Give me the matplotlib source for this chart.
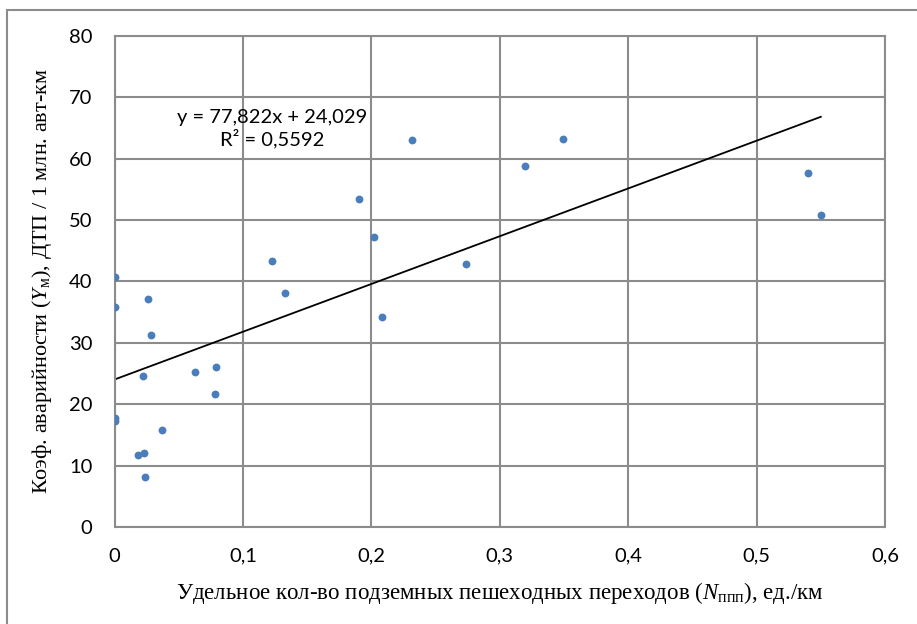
"""Scatter of accident rate vs. underground pedestrian crossing density, with linear trend."""

import matplotlib

matplotlib.use("Agg")

import matplotlib.pyplot as plt  # noqa: E402
import numpy as np  # noqa: E402
from matplotlib.patches import Rectangle  # noqa: E402

plt.rcParams["mathtext.fontset"] = "custom"
plt.rcParams["mathtext.rm"] = "Liberation Serif"
plt.rcParams["mathtext.it"] = "Liberation Serif:italic"

# ---------------------------------------------------------------------------
# Data
# ---------------------------------------------------------------------------

n_crossings = [0.0, 0.0, 0.0, 0.0,
               0.0263, 0.0282, 0.0224, 0.0627, 0.0793, 0.0785,
               0.0368, 0.0185, 0.023, 0.0238,
               0.123, 0.133, 0.190, 0.202, 0.2086, 0.232,
               0.274, 0.320, 0.349, 0.540, 0.550]
accident_rate = [40.8, 35.9, 17.7, 17.2,
                 37.2, 31.2, 24.6, 25.2, 26.1, 21.6,
                 15.8, 11.7, 12.0, 8.2,
                 43.4, 38.2, 53.4, 47.3, 34.2, 63.0,
                 42.8, 58.8, 63.2, 57.7, 50.8]

trend_slope = 77.822
trend_intercept = 24.029
trend_r2 = 0.5592

x_ticks = [0, 0.1, 0.2, 0.3, 0.4, 0.5, 0.6]
y_ticks = [0, 10, 20, 30, 40, 50, 60, 70, 80]

# ---------------------------------------------------------------------------
# Plot
# ---------------------------------------------------------------------------

grid_color = "#8c8c8c"
point_color = "#4a7ebb"

fig = plt.figure(figsize=(9.17, 6.24), dpi=100)
ax = fig.add_axes([0.1249, 0.1555, 0.8402, 0.7868])

# outer chart frame (only left and top edges visible in the crop)
fig.patches.append(Rectangle((7 / 917, -0.05), 1.2, 1.05 - 10 / 624,
                             transform=fig.transFigure, fill=False,
                             edgecolor=grid_color, linewidth=1.5))

xs = np.array(n_crossings)
ys = np.array(accident_rate)

ax.scatter(xs, ys, s=32, color=point_color, zorder=3, linewidths=0)

trend_x = np.array([0.0, xs.max()])
ax.plot(trend_x, trend_slope * trend_x + trend_intercept,
        color="black", linewidth=1.3, zorder=2)

eq_text = (f"y = {trend_slope:.3f}x + {trend_intercept:.3f}".replace(".", ",")
           + "\n" + f"R² = {trend_r2:.4f}".replace(".", ","))
ax.text(0.1227, 64.9, eq_text, ha="center", va="center", fontsize=14.5,
        family="Lato", linespacing=1.2, zorder=4)

ax.set_xlim(0, 0.6)
ax.set_ylim(0, 80)
ax.set_xticks(x_ticks)
ax.set_yticks(y_ticks)
ax.set_xticklabels([f"{v:g}".replace(".", ",") for v in x_ticks])
ax.set_yticklabels([str(v) for v in y_ticks])

for lbl in ax.get_xticklabels() + ax.get_yticklabels():
    lbl.set_family("Lato")
    lbl.set_fontsize(14.5)

ax.tick_params(axis="both", length=0)
ax.tick_params(axis="x", pad=15)
ax.tick_params(axis="y", pad=16)

ax.grid(True, color=grid_color, linewidth=1.5)
ax.set_axisbelow(True)
for spine in ax.spines.values():
    spine.set_color(grid_color)
    spine.set_linewidth(1.5)

ax.set_xlabel(r"Удельное кол-во подземных пешеходных переходов ($N_{\mathrm{ппп}}$), ед./км",
              family="Liberation Serif", fontsize=16.5, labelpad=11)
ax.set_ylabel(r"Коэф. аварийности ($Y_{\mathrm{м}}$), ДТП / 1 млн. авт-км",
              family="Liberation Serif", fontsize=16, labelpad=11)

fig.savefig("out.png", dpi=100)
plt.close(fig)
